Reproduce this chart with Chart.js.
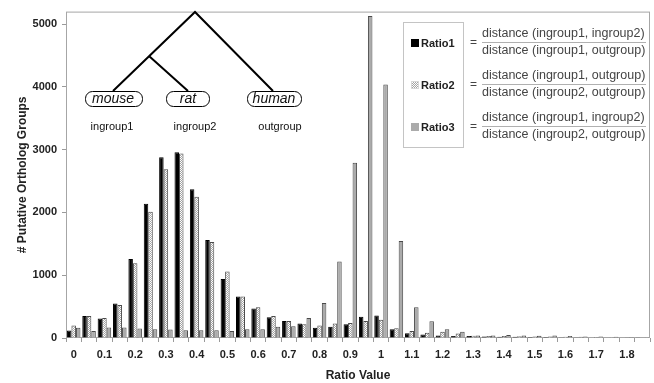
<!DOCTYPE html>
<html>
<head>
<meta charset="utf-8">
<script src="https://cdn.jsdelivr.net/npm/chart.js@4.4.1/dist/chart.umd.min.js"></script>
<style>
  html, body { margin: 0; padding: 0; background: #fff; }
  #wrap { width: 654px; height: 383px; }
</style>
</head>
<body>
<div id="wrap"><canvas id="chart" width="654" height="383"></canvas></div>
<script>
/* ---- data ---- */
const ratioBins = ['0', '0.05', '0.1', '0.15', '0.2', '0.25', '0.3', '0.35', '0.4', '0.45',
                   '0.5', '0.55', '0.6', '0.65', '0.7', '0.75', '0.8', '0.85', '0.9', '0.95',
                   '1', '1.05', '1.1', '1.15', '1.2', '1.25', '1.3', '1.35', '1.4', '1.45',
                   '1.5', '1.55', '1.6', '1.65', '1.7', '1.75', '1.8', '1.85'];
const tickLabels = ['0', '0.1', '0.2', '0.3', '0.4', '0.5', '0.6', '0.7', '0.8', '0.9',
                    '1', '1.1', '1.2', '1.3', '1.4', '1.5', '1.6', '1.7', '1.8'];
const yTicks = [0, 1000, 2000, 3000, 4000, 5000];

const ratio1 = [120, 350, 310, 550, 1260, 2140, 2880, 2960, 2370, 1560,
                940, 660, 470, 330, 270, 230, 165, 180, 220, 340,
                360, 140, 75, 55, 38, 32, 30, 25, 20, 18,
                15, 14, 12, 10, 8, 7, 6, 5];
const ratio2 = [200, 350, 320, 525, 1190, 2010, 2690, 2940, 2250, 1530,
                1060, 660, 490, 350, 270, 220, 200, 230, 240, 270,
                290, 155, 110, 85, 100, 73, 36, 31, 31, 28,
                25, 22, 20, 18, 15, 12, 10, 8];
const ratio3 = [165, 110, 167, 167, 150, 140, 135, 125, 125, 125,
                110, 140, 140, 180, 187, 320, 557, 1220, 2790, 5130,
                4040, 1545, 490, 266, 138, 99, 38, 40, 47, 38,
                35, 38, 30, 25, 22, 18, 15, 12];

const seriesNames = ['Ratio1', 'Ratio2', 'Ratio3'];
const fractions = [
    ['distance (ingroup1, ingroup2)', 'distance (ingroup1, outgroup)'],
    ['distance (ingroup1, outgroup)', 'distance (ingroup2, outgroup)'],
    ['distance (ingroup1, ingroup2)', 'distance (ingroup2, outgroup)']
];

const FONT = '"Liberation Sans", Arial, sans-serif';

// checkered fill for Ratio2
function checker() {
    const c = document.createElement('canvas');
    c.width = 2; c.height = 2;
    const g = c.getContext('2d');
    g.fillStyle = '#ffffff'; g.fillRect(0, 0, 2, 2);
    g.fillStyle = '#a4a4a4'; g.fillRect(1, 0, 1, 1); g.fillRect(0, 1, 1, 1);
    return g.createPattern(c, 'repeat');
}
const ctx = document.getElementById('chart').getContext('2d');
const pat = checker();
const fills = ['#000000', pat, '#ababab'];

/* ---- tree + formula legend drawn on top ---- */
const annotations = {
    id: 'annotations',
    beforeDatasetsDraw(chart) {
        const c = chart.ctx, a = chart.chartArea;
        c.save();
        c.strokeStyle = '#a6a6a6';
        c.lineWidth = 1;
        c.strokeRect(a.left + 0.5, a.top + 0.5, a.right - a.left - 1, a.bottom - a.top - 1);
        c.restore();
    },
    afterDraw(chart) {
        const c = chart.ctx;
        c.save();
        // tree
        c.strokeStyle = '#000';
        c.lineWidth = 2;
        c.beginPath();
        c.moveTo(113, 91); c.lineTo(195, 12); c.lineTo(273, 91);
        c.moveTo(149, 56); c.lineTo(188, 91);
        c.stroke();

        const boxes = [['mouse', 85, 57, 113], ['rat', 166, 43, 188], ['human', 247, 54, 274]];
        c.lineWidth = 1;
        c.fillStyle = '#fff';
        boxes.forEach(b => {
            c.beginPath();
            c.roundRect(b[1] + 0.5, 91.5, b[2], 15, 7);
            c.fill(); c.stroke();
        });
        c.fillStyle = '#111';
        c.textAlign = 'center';
        c.textBaseline = 'middle';
        c.font = 'italic 14px ' + FONT;
        boxes.forEach(b => c.fillText(b[0], b[3], 99.5));
        c.font = '11px ' + FONT;
        c.fillText('ingroup1', 112, 127);
        c.fillText('ingroup2', 195, 127);
        c.fillText('outgroup', 280, 127);

        // legend box
        c.fillStyle = '#fff';
        c.fillRect(403.5, 22.5, 60, 125);
        c.strokeStyle = '#c4c4c4';
        c.strokeRect(403.5, 22.5, 60, 125);
        seriesNames.forEach((name, i) => {
            const y = 43 + i * 42;
            c.fillStyle = fills[i];
            c.fillRect(411, y - 4, 8, 8);
            if (i === 1) { c.strokeStyle = '#d8d8d8'; c.strokeRect(411.5, y - 3.5, 7, 7); }
            c.fillStyle = '#222';
            c.textAlign = 'left';
            c.font = 'bold 11px ' + FONT;
            c.fillText(name, 421, y + 0.5);
            c.font = '12px ' + FONT;
            c.fillStyle = '#444';
            c.fillText('=', 470, y);
            c.font = '12.5px ' + FONT;
            c.fillText(fractions[i][0], 482, y - 9);
            c.fillText(fractions[i][1], 482, y + 8);
            c.strokeStyle = '#b0b0b0';
            c.beginPath();
            c.moveTo(482, y - 0.5); c.lineTo(646, y - 0.5);
            c.stroke();
        });
        c.restore();
    }
};

new Chart(ctx, {
    type: 'bar',
    data: {
        labels: ratioBins,
        datasets: [
            { label: 'Ratio1', data: ratio1, backgroundColor: fills[0], borderColor: '#000', borderWidth: 1 },
            { label: 'Ratio2', data: ratio2, backgroundColor: fills[1], borderColor: '#4a4a4a', borderWidth: 1 },
            { label: 'Ratio3', data: ratio3, backgroundColor: fills[2], borderColor: '#4a4a4a', borderWidth: 1 }
        ]
    },
    options: {
        responsive: false,
        animation: false,
        devicePixelRatio: 1,
        categoryPercentage: 0.88,
        barPercentage: 1.0,
        layout: { padding: { top: 5, right: 4, left: 0, bottom: 0 } },
        plugins: { legend: { display: false }, tooltip: { enabled: false } },
        scales: {
            x: {
                grid: { drawOnChartArea: false, tickLength: 4, color: '#9a9a9a', offset: true },
                border: { display: false },
                ticks: {
                    autoSkip: false, maxRotation: 0, padding: 6, color: '#222',
                    font: { family: FONT, size: 11, weight: 'bold' },
                    callback: (v, i) => tickLabels.includes(ratioBins[i]) ? ratioBins[i] : ''
                },
                title: {
                    display: true, text: 'Ratio Value', color: '#222',
                    font: { family: FONT, size: 12, weight: 'bold' },
                    padding: { top: 0, bottom: 0 }
                },
                afterFit(s) { s.height = 45; }
            },
            y: {
                min: 0, max: 5200,
                afterBuildTicks(s) { s.ticks = yTicks.map(v => ({ value: v })); },
                grid: { drawOnChartArea: false, tickLength: 4, color: '#9a9a9a' },
                border: { display: false },
                ticks: {
                    padding: 5, color: '#222',
                    font: { family: FONT, size: 11, weight: 'bold' },
                    callback: v => String(v)
                },
                title: {
                    display: true, text: '# Putative Ortholog Groups', color: '#222',
                    font: { family: FONT, size: 12, weight: 'bold' },
                    padding: { top: 15, bottom: 0 }
                },
                afterFit(s) { s.width = 66; }
            }
        }
    },
    plugins: [annotations]
});
</script>
</body>
</html>
